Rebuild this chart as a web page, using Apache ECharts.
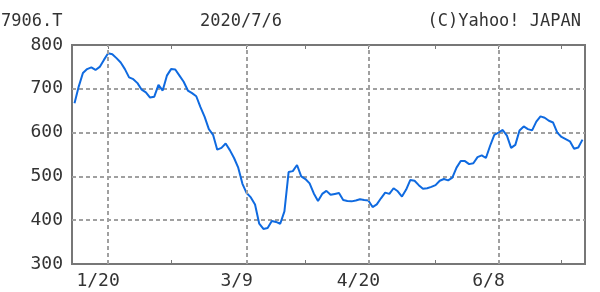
<!DOCTYPE html>
<html><head><meta charset="utf-8">
<script src="https://cdn.jsdelivr.net/npm/echarts@6/dist/echarts.min.js"></script>
<style>html,body{margin:0;padding:0;background:#fff}#c{width:600px;height:292px}</style>
</head><body><div id="c"></div>
<script>
const dates = ['1/7','1/8','1/9','1/10','1/14','1/15','1/16','1/17','1/20','1/21','1/22','1/23','1/24','1/27','1/28','1/29','1/30','1/31',
'2/3','2/4','2/5','2/6','2/7','2/10','2/12','2/13','2/14','2/17','2/18','2/19','2/20','2/21','2/25','2/26','2/27','2/28',
'3/2','3/3','3/4','3/5','3/6','3/9','3/10','3/11','3/12','3/13','3/16','3/17','3/18','3/19','3/23','3/24','3/25','3/26','3/27','3/30','3/31',
'4/1','4/2','4/3','4/6','4/7','4/8','4/9','4/10','4/13','4/14','4/15','4/16','4/17','4/20','4/21','4/22','4/23','4/24','4/27','4/28','4/30',
'5/1','5/7','5/8','5/11','5/12','5/13','5/14','5/15','5/18','5/19','5/20','5/21','5/22','5/25','5/26','5/27','5/28','5/29',
'6/1','6/2','6/3','6/4','6/5','6/8','6/9','6/10','6/11','6/12','6/15','6/16','6/17','6/18','6/19','6/22','6/23','6/24','6/25','6/26','6/29','6/30',
'7/1','7/2','7/3','7/6'];
const prices = [667,705,736,745,749,743,750,766,781,779,770,760,745,726,722,713,698,692,680,682,
709,696,730,745,744,730,716,696,690,683,658,636,
608,595,561,565,575,560,542,520,483,462,452,436,392,380,382,398,396,392,420,510,512,526,500,494,484,461,444,460,
467,458,460,462,446,444,443,445,448,446,445,430,436,450,463,460,473,466,454,470,492,490,480,472,473,476,480,490,494,491,
497,520,535,535,528,530,544,548,542,570,595,600,606,593,565,572,605,614,608,605,625,637,634,627,623,600,590,585,580,563,566,584];
const labelDates = ['1/20','3/9','4/20','6/8'];
const minorTickIdx = [23,55,86,116];
const yTicks = [300,400,500,600,700,800];
const titleCode = '7906.T';
const titleDate = '2020/7/6';
const titleCopy = '(C)Yahoo! JAPAN';

const majorIdx = labelDates.map(d => dates.indexOf(d));
const allTicks = majorIdx.concat(minorTickIdx).sort((a,b)=>a-b);
const FONT = 'DejaVu Sans Mono';
const TXT = '#333';
const chart = echarts.init(document.getElementById('c'), null, {renderer:'canvas'});
const tstyle = {color:TXT, fontFamily:FONT, fontSize:17, fontWeight:'normal'};
chart.setOption({
  animation:false,
  title:[
    {text:titleCode, left:1, top:13, padding:0, textStyle:tstyle},
    {text:titleDate, left:200, top:13, padding:0, textStyle:tstyle},
    {text:titleCopy, right:19, top:13, padding:0, textStyle:tstyle}
  ],
  grid:{left:72, right:15, top:45, bottom:28, show:true, borderColor:'#777', borderWidth:2, backgroundColor:'#fff'},
  xAxis:[{
    type:'value', min:-0.6, max:121.6, position:'bottom',
    axisLine:{show:false},
    axisTick:{show:true, inside:true, length:4, customValues:allTicks, lineStyle:{color:'#777', width:1}},
    axisLabel:{show:true, customValues:majorIdx, formatter:v=>dates[Math.round(v)], color:TXT, fontFamily:FONT, fontSize:18, margin:8, padding:[0,20,0,0]},
    splitLine:{show:false}
  },{
    type:'value', min:-0.6, max:121.6, position:'top',
    axisLine:{show:false},
    axisTick:{show:true, inside:true, length:4, customValues:allTicks, lineStyle:{color:'#777', width:1}},
    axisLabel:{show:false},
    splitLine:{show:false}
  }],
  yAxis:{
    type:'value', min:300, max:800, interval:100,
    axisLine:{show:false}, axisTick:{show:false},
    axisLabel:{color:TXT, fontFamily:FONT, fontSize:18, margin:9, customValues:yTicks},
    splitLine:{show:true, showMinLine:false, showMaxLine:false, lineStyle:{color:'#a0a0a0', width:2, type:[4,3]}}
  },
  series:[{
    type:'line', xAxisIndex:0,
    data:prices.map((v,i)=>[i,v]),
    showSymbol:false, symbol:'none',
    lineStyle:{color:'#0f6ae0', width:2},
    markLine:{
      silent:true, symbol:['none','none'], label:{show:false},
      lineStyle:{color:'#a0a0a0', width:2, type:[4,3]},
      data:majorIdx.map(i=>({xAxis:i}))
    },
    z:3
  }]
});
</script></body></html>
